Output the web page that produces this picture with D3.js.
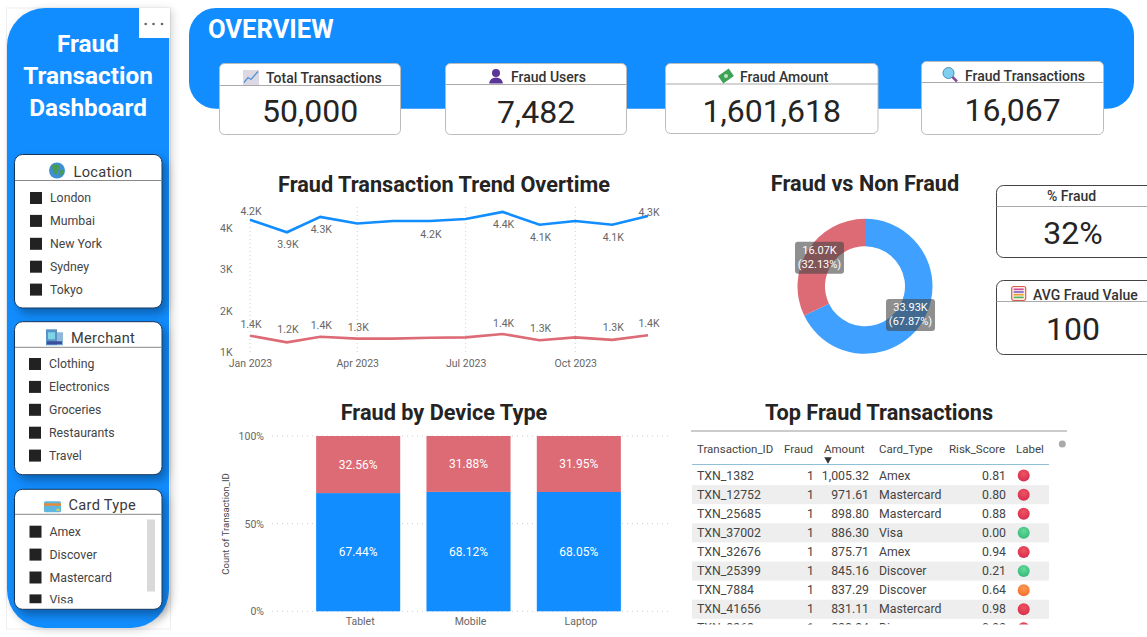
<!DOCTYPE html>
<html>
<head>
<meta charset="utf-8">
<script src="https://cdn.jsdelivr.net/npm/d3@7"></script>
<style>
  html, body { margin: 0; padding: 0; background: #fff; overflow: hidden; }
  svg { display: block; }
  text { font-family: Roboto, "Noto Sans", sans-serif; }
  .title { font-size: 21.7px; font-weight: 700; fill: #252423; text-anchor: middle; dominant-baseline: central; }
  .axis-label { font-size: 10.5px; fill: #666; }
  .axis path, .axis line { display: none; }
</style>
</head>
<body>
<svg id="page" width="1147" height="637"></svg>
<script>
// data
var months = ["2023-01-01","2023-02-01","2023-03-01","2023-04-01","2023-05-01","2023-06-01","2023-07-01","2023-08-01","2023-09-01","2023-10-01","2023-11-01","2023-12-01"];
var nonFraudByMonth = [4190, 3890, 4260, 4100, 4160, 4160, 4210, 4380, 4070, 4160, 4070, 4280];
var fraudByMonth = [1400, 1240, 1376, 1330, 1330, 1350, 1360, 1440, 1290, 1360, 1300, 1410];

var donutLabels = ["Non Fraud", "Fraud"];
var donutValues = [33930, 16070];
var donutPct = ["67.87%", "32.13%"];

var devices = ["Tablet", "Mobile", "Laptop"];
var nonFraudPct = [67.44, 68.12, 68.05];
var fraudPct = [32.56, 31.88, 31.95];

var locations = ["London", "Mumbai", "New York", "Sydney", "Tokyo"];
var merchants = ["Clothing", "Electronics", "Groceries", "Restaurants", "Travel"];
var cardTypes = ["Amex", "Discover", "Mastercard", "Visa"];

var tableHeads = ["Transaction_ID", "Fraud", "Amount", "Card_Type", "Risk_Score", "Label"];
var txnIds = ["TXN_1382", "TXN_12752", "TXN_25685", "TXN_37002", "TXN_32676", "TXN_25399", "TXN_7884", "TXN_41656", "TXN_8368"];
var txnFraud = [1, 1, 1, 1, 1, 1, 1, 1, 1];
var txnAmount = [1005.32, 971.61, 898.80, 886.30, 875.71, 845.16, 837.29, 831.11, 828.34];
var txnCard = ["Amex", "Mastercard", "Mastercard", "Visa", "Amex", "Discover", "Discover", "Mastercard", "Discover"];
var txnRisk = [0.81, 0.80, 0.88, 0.00, 0.94, 0.21, 0.64, 0.98, 0.92];

var blue = "#118dff", red = "#dd6b75", lightBlue = "#3fa0ff";
var svg = d3.select("#page");
var defs = svg.append("defs");

var shadow = defs.append("filter").attr("id", "cardShadow")
  .attr("x", "-20%").attr("y", "-20%").attr("width", "145%").attr("height", "145%");
shadow.append("feDropShadow").attr("dx", 4).attr("dy", 5).attr("stdDeviation", 5)
  .attr("flood-color", "#000").attr("flood-opacity", 0.32);

function addBall(id, light, dark) {
  var g = defs.append("radialGradient").attr("id", id).attr("cx", "50%").attr("cy", "35%").attr("r", "70%");
  g.append("stop").attr("offset", "0%").attr("stop-color", light);
  g.append("stop").attr("offset", "100%").attr("stop-color", dark);
}
addBall("ballRed", "#ee5560", "#d62a4e");
addBall("ballGreen", "#66d99a", "#2fb875");
addBall("ballOrange", "#fb9a4c", "#f26d30");

// ---------- sidebar ----------
svg.append("rect").attr("x", 6.5).attr("y", 8).attr("width", 164).attr("height", 621)
  .attr("fill", "none").attr("stroke", "#eeeeee");
svg.append("path")
  .attr("d", "M7 46 A38 38 0 0 1 45 8 L169 8 L169 590 A38 38 0 0 1 131 628 L45 628 A38 38 0 0 1 7 590 Z")
  .attr("fill", blue).style("filter", "drop-shadow(3px 2px 4px rgba(0,0,0,0.18))");
svg.append("rect").attr("x", 139).attr("y", 8).attr("width", 31).attr("height", 30).attr("fill", "#fff");
[145.7, 153.5, 162].forEach(function(x) {
  svg.append("circle").attr("cx", x).attr("cy", 24).attr("r", 1.3).attr("fill", "#666");
});

["Fraud", "Transaction", "Dashboard"].forEach(function(t, i) {
  svg.append("text").attr("x", 88).attr("y", 43.5 + i * 32)
    .attr("text-anchor", "middle").attr("dominant-baseline", "central")
    .attr("fill", "#fff").style("font-size", "24.3px").style("font-weight", 700).text(t);
});

// slicer card, items get clipped to the box
function slicer(name, items, y0, y1, yLine, firstY, x0, icon, iconX, textX) {
  var id = "clip" + name.replace(" ", "");
  defs.append("clipPath").attr("id", id).append("rect")
    .attr("x", 14).attr("y", yLine).attr("width", 148).attr("height", y1 - yLine - 6);
  svg.append("rect").attr("x", 14.5).attr("y", y0).attr("width", 147.5).attr("height", y1 - y0).attr("rx", 8)
    .attr("fill", "#fff").attr("stroke", "#17365a").attr("stroke-width", 1)
    .attr("filter", "url(#cardShadow)");
  svg.append("line").attr("x1", 15).attr("x2", 161.5).attr("y1", yLine).attr("y2", yLine).attr("stroke", "#888");
  svg.append("text").attr("x", textX).attr("y", yLine - 9).attr("dominant-baseline", "central")
    .attr("fill", "#3a3a3a").style("font-size", "14.6px").style("letter-spacing", "0.3px").text(name);
  icon(svg.append("g").attr("transform", "translate(" + iconX + "," + (yLine - 10) + ")"));
  var g = svg.append("g").attr("clip-path", "url(#" + id + ")");
  var row = d3.scalePoint().domain(items).range([firstY, firstY + 22.9 * (items.length - 1)]);
  g.selectAll("rect").data(items).enter().append("rect")
    .attr("x", x0).attr("y", function(d) { return row(d) - 6; })
    .attr("width", 12).attr("height", 12).attr("fill", "#222");
  g.selectAll("text").data(items).enter().append("text")
    .attr("x", x0 + 20).attr("y", function(d) { return row(d); })
    .attr("dominant-baseline", "central").attr("fill", "#444").style("font-size", "12.3px").text(function(d) { return d; });
}

function iconGlobe(g) {
  g.append("circle").attr("r", 8).attr("fill", "#3d8fd6");
  g.append("path").attr("d", "M-5 -5 Q0 -8 3 -4 L1 0 L-1 5 L-4 1 Z M3 0 L7 -1 L5 5 L2 5 Z").attr("fill", "#4a9c52");
}
function iconBuilding(g) {
  g.append("rect").attr("x", -8).attr("y", -8).attr("width", 11).attr("height", 16).attr("fill", "#5a93c6");
  g.append("rect").attr("x", 3).attr("y", -5).attr("width", 6).attr("height", 13).attr("fill", "#8db8dc");
  g.append("rect").attr("x", -6).attr("y", -5).attr("width", 7).attr("height", 7).attr("fill", "#7fd4e6");
  g.append("rect").attr("x", -7).attr("y", 4).attr("width", 15).attr("height", 3).attr("fill", "#3b4e9b");
}
function iconCard(g) {
  g.append("rect").attr("x", -8.5).attr("y", -3).attr("width", 17).attr("height", 11).attr("rx", 1.5).attr("fill", "#5fb7e0");
  g.append("rect").attr("x", -8.5).attr("y", -1).attr("width", 17).attr("height", 2.5).attr("fill", "#e58a3a");
  g.append("rect").attr("x", 4).attr("y", 4.5).attr("width", 3).attr("height", 2).attr("fill", "#e8d24a");
}
function iconChart(g) {
  g.append("rect").attr("x", -8).attr("y", -7.5).attr("width", 16).attr("height", 15).attr("fill", "#dcd8e4");
  g.append("path").attr("d", "M-7 5 L-3 0 L0 2 L7 -6").attr("fill", "none").attr("stroke", "#4f93d6").attr("stroke-width", 1.3);
}
function iconPerson(g) {
  g.append("circle").attr("cy", -3.5).attr("r", 4).attr("fill", "#5a3596");
  g.append("path").attr("d", "M-7 7 Q-6 1 0 1 Q6 1 7 7 Z").attr("fill", "#5a3596");
}
function iconMoney(g) {
  g.append("rect").attr("x", -6.5).attr("y", -4.5).attr("width", 13).attr("height", 9)
    .attr("transform", "rotate(-35)").attr("fill", "#3fa357");
  g.append("circle").attr("r", 2).attr("fill", "#bfe6c2");
}
function iconLens(g) {
  g.append("line").attr("x1", 2).attr("y1", 2).attr("x2", 7).attr("y2", 7).attr("stroke", "#8b4a9c").attr("stroke-width", 2.5);
  g.append("circle").attr("cx", -1.5).attr("cy", -1.5).attr("r", 5.5).attr("fill", "#7fd0ee").attr("stroke", "#4a8fc0");
}
function iconAbacus(g) {
  g.append("rect").attr("x", -7).attr("y", -7).attr("width", 14).attr("height", 14).attr("rx", 2)
    .attr("fill", "#fbeee0").attr("stroke", "#e0584c").attr("stroke-width", 1.2);
  ["#d04aa0", "#7a5cd0", "#e8a030", "#55b060"].forEach(function(c, i) {
    g.append("rect").attr("x", -5).attr("y", -5 + i * 2.7).attr("width", 10).attr("height", 1.6).attr("fill", c);
  });
}

slicer("Location", locations, 154.5, 308, 180.5, 198, 30, iconGlobe, 57, 73.5);
slicer("Merchant", merchants, 321.7, 474.7, 347.3, 364, 29, iconBuilding, 54, 71);
slicer("Card Type", cardTypes, 489.3, 609.3, 514.3, 531.7, 29.5, iconCard, 52.5, 68.5);
svg.append("rect").attr("x", 147).attr("y", 519.5).attr("width", 8).attr("height", 72).attr("fill", "#d9d9d9");

// ---------- overview band ----------
svg.append("rect").attr("x", 189).attr("y", 8).attr("width", 945).attr("height", 100.7).attr("rx", 27).attr("fill", blue);
svg.append("text").attr("x", 208).attr("y", 29).attr("dominant-baseline", "central")
  .attr("fill", "#fff").style("font-size", "25.6px").style("font-weight", 700).text("OVERVIEW");

function kpi(label, value, x0, x1, y0, y1, yLine, textX, labelY, valueY, iconX, icon, stroke, radius) {
  svg.append("rect").attr("x", x0).attr("y", y0).attr("width", x1 - x0).attr("height", y1 - y0).attr("rx", radius)
    .attr("fill", "#fff").attr("stroke", stroke);
  svg.append("line").attr("x1", x0).attr("x2", x1).attr("y1", yLine).attr("y2", yLine).attr("stroke", "#aaa").attr("stroke-width", 1.2);
  svg.append("text").attr("x", textX).attr("y", labelY).attr("dominant-baseline", "central")
    .attr("fill", "#333").style("font-size", "14px").style("font-weight", 500).text(label);
  if (icon) icon(svg.append("g").attr("transform", "translate(" + iconX + "," + (yLine - 8) + ")"));
  svg.append("text").attr("x", Math.min((x0 + x1) / 2, 1073)).attr("y", valueY)
    .attr("text-anchor", "middle").attr("dominant-baseline", "central")
    .attr("fill", "#252423").style("font-size", "32px").text(value);
}

kpi("Total Transactions", d3.format(",")(50000), 219.5, 400.5, 63.5, 134.5, 85.5, 266, 78, 111, 251, iconChart, "#bbb", 5);
kpi("Fraud Users", d3.format(",")(7482), 445.5, 626.5, 63.5, 134.5, 84.5, 511, 77, 111.5, 496, iconPerson, "#bbb", 5);
kpi("Fraud Amount", d3.format(",")(1601618), 665.5, 878, 63.5, 133.5, 84, 740, 77, 110.5, 726, iconMoney, "#bbb", 5);
kpi("Fraud Transactions", d3.format(",")(16067), 921.5, 1103.5, 61.5, 134.5, 82.5, 965, 76, 110, 950, iconLens, "#bbb", 5);
kpi("% Fraud", "32%", 996.5, 1155, 185.5, 257.5, 206.5, 1047, 196, 233, 0, null, "#444", 7);
kpi("AVG Fraud Value", "100", 996.5, 1155, 280.5, 354.5, 301.5, 1033, 295, 329, 1018.7, iconAbacus, "#444", 7);

// ---------- line chart ----------
svg.append("text").attr("class", "title").attr("x", 444).attr("y", 184).text("Fraud Transaction Trend Overtime");

var parseDay = d3.timeParse("%Y-%m-%d");
var dates = months.map(parseDay);
var x = d3.scaleTime().domain([dates[0], dates[11]]).range([250, 648]);
var y = d3.scaleLinear().domain([1000, 4000]).range([352.3, 227.7]);
var kFormat = function(v) { return d3.format(".1f")(v / 1000) + "K"; };

var xTicks = [dates[0], dates[3], dates[6], dates[9]];
svg.append("g").selectAll("line").data(xTicks).enter().append("line")
  .attr("x1", x).attr("x2", x).attr("y1", 207).attr("y2", 354)
  .attr("stroke", "#cfcfcf").attr("stroke-dasharray", "1 3");

svg.append("g").attr("class", "axis").attr("transform", "translate(0,358.5)")
  .call(d3.axisBottom(x).tickValues(xTicks).tickFormat(d3.timeFormat("%b %Y")).tickSize(0))
  .call(function(g) { g.selectAll("text").attr("class", "axis-label").attr("dy", "0.5em"); })
  .call(function(g) { g.select(".domain").remove(); });

svg.append("g").attr("class", "axis").attr("transform", "translate(232.5,0)")
  .call(d3.axisLeft(y).ticks(4).tickFormat(function(v) { return (v / 1000) + "K"; }).tickSize(0))
  .call(function(g) { g.selectAll("text").attr("class", "axis-label").attr("x", 0); })
  .call(function(g) { g.select(".domain").remove(); });

var line = d3.line().x(function(d, i) { return x(dates[i]); }).y(function(d) { return y(d); });
svg.append("path").attr("d", line(fraudByMonth)).attr("fill", "none").attr("stroke", red).attr("stroke-width", 2.6);
svg.append("path").attr("d", line(nonFraudByMonth)).attr("fill", "none").attr("stroke", blue).attr("stroke-width", 2.6);

// not every month has a label, offset from the line in px
var nonFraudLabelDy = { 0: -8, 1: 12, 2: 13, 5: 13, 7: 13, 8: 13, 10: 13, 11: -4 };
var fraudLabelDy = { 0: -11, 1: -13, 2: -11, 3: -11, 7: -11, 8: -12, 10: -12, 11: -12 };
function lineLabels(values, offs) {
  var shown = d3.range(values.length).filter(function(i) { return offs[i] !== undefined; });
  svg.append("g").selectAll("text").data(shown).enter().append("text")
    .attr("class", "axis-label")
    .attr("text-anchor", "middle").attr("dominant-baseline", "central")
    .attr("x", function(i) { return x(dates[i]) + 1; })
    .attr("y", function(i) { return y(values[i]) + offs[i]; })
    .text(function(i) { return kFormat(values[i]); });
}
lineLabels(nonFraudByMonth, nonFraudLabelDy);
lineLabels(fraudByMonth, fraudLabelDy);

// ---------- donut ----------
svg.append("text").attr("class", "title").attr("x", 865).attr("y", 183).text("Fraud vs Non Fraud");
var pie = d3.pie().sort(null);
var arc = d3.arc().innerRadius(40).outerRadius(67.5);
var donut = svg.append("g").attr("transform", "translate(865,286.3)");
var slices = pie(donutValues);
donut.selectAll("path").data(slices).enter().append("path")
  .attr("d", arc).attr("fill", function(d, i) { return i === 0 ? lightBlue : red; });
slices.forEach(function(s, i) {
  var c = arc.centroid(s);
  var g = donut.append("g").attr("transform", "translate(" + c[0] + "," + c[1] + ")");
  g.append("rect").attr("x", -24.5).attr("y", -16).attr("width", 49).attr("height", 32).attr("rx", 3)
    .attr("fill", "#444").attr("fill-opacity", 0.6);
  g.append("text").attr("text-anchor", "middle").attr("y", -7).attr("dominant-baseline", "central")
    .attr("fill", "#fff").style("font-size", "11px").text(d3.format(".2f")(donutValues[i] / 1000) + "K");
  g.append("text").attr("text-anchor", "middle").attr("y", 7).attr("dominant-baseline", "central")
    .attr("fill", "#fff").style("font-size", "11px").text("(" + donutPct[i] + ")");
});

// ---------- stacked bars ----------
svg.append("text").attr("class", "title").attr("x", 444).attr("y", 412).text("Fraud by Device Type");
var bx = d3.scaleBand().domain(devices).range([303, 634]).paddingInner(0.238).paddingOuter(0.119);
var by = d3.scaleLinear().domain([0, 100]).range([611.3, 436]);

svg.append("g").selectAll("line").data([0, 50, 100]).enter().append("line")
  .attr("x1", 272).attr("x2", 670).attr("y1", by).attr("y2", by)
  .attr("stroke", "#cfcfcf").attr("stroke-dasharray", "1 4");

svg.append("g").attr("class", "axis").attr("transform", "translate(264,0)")
  .call(d3.axisLeft(by).tickValues([0, 50, 100]).tickFormat(function(v) { return v + "%"; }).tickSize(0))
  .call(function(g) { g.selectAll("text").attr("class", "axis-label").attr("x", 0); })
  .call(function(g) { g.select(".domain").remove(); });
svg.append("g").attr("class", "axis").attr("transform", "translate(2,617)")
  .call(d3.axisBottom(bx).tickSize(0))
  .call(function(g) { g.selectAll("text").attr("class", "axis-label").attr("dy", "0.5em"); })
  .call(function(g) { g.select(".domain").remove(); });
svg.append("text").attr("transform", "translate(225,524) rotate(-90)")
  .attr("text-anchor", "middle").attr("dominant-baseline", "central")
  .attr("fill", "#444").style("font-size", "9.5px").text("Count of Transaction_ID");

var stacked = d3.stack().keys(["nonFraud", "fraud"])(devices.map(function(d, i) {
  return { device: d, nonFraud: nonFraudPct[i], fraud: fraudPct[i] };
}));
stacked.forEach(function(layer) {
  var g = svg.append("g");
  g.selectAll("rect").data(layer).enter().append("rect")
    .attr("x", function(d) { return bx(d.data.device); })
    .attr("width", bx.bandwidth())
    .attr("y", function(d) { return by(d[1]); })
    .attr("height", function(d) { return by(d[0]) - by(d[1]); })
    .attr("fill", layer.key === "fraud" ? red : blue);
  g.selectAll("text").data(layer).enter().append("text")
    .attr("x", function(d) { return bx(d.data.device) + bx.bandwidth() / 2; })
    .attr("y", function(d) { return by((d[0] + d[1]) / 2); })
    .attr("text-anchor", "middle").attr("dominant-baseline", "central")
    .attr("fill", "#fff").style("font-size", "12px")
    .text(function(d) { return d3.format(".2f")(d.data[layer.key]) + "%"; });
});

// ---------- table ----------
svg.append("text").attr("class", "title").attr("x", 879).attr("y", 412).text("Top Fraud Transactions");
svg.append("line").attr("x1", 691).attr("x2", 1067).attr("y1", 431).attr("y2", 431).attr("stroke", "#999");
svg.append("circle").attr("cx", 1062.3).attr("cy", 444).attr("r", 3.5).attr("fill", "#aaa");

var headX = [697, 784, 824, 879, 949, 1016];
tableHeads.forEach(function(h, i) {
  svg.append("text").attr("x", headX[i]).attr("y", 449).attr("dominant-baseline", "central")
    .attr("fill", "#444").style("font-size", "11.5px").text(h);
});
svg.append("path").attr("d", d3.symbol(d3.symbolTriangle, 24)).attr("fill", "#333")
  .attr("transform", "translate(828,459.5) rotate(180)");
svg.append("line").attr("x1", 692).attr("x2", 1049).attr("y1", 464.5).attr("y2", 464.5).attr("stroke", "#8fc0d8");

defs.append("clipPath").attr("id", "clipTable").append("rect")
  .attr("x", 690).attr("y", 465).attr("width", 365).attr("height", 159.5);
var ry = d3.scaleBand().domain(txnIds).range([466, 466 + 19.1 * txnIds.length]);
var table = svg.append("g").attr("clip-path", "url(#clipTable)");
var amountFmt = d3.format(",.2f"), riskFmt = d3.format(".2f");

txnIds.forEach(function(id, i) {
  var cy = ry(id) + ry.bandwidth() / 2;
  if (i % 2 === 1) {
    table.append("rect").attr("x", 692).attr("y", ry(id)).attr("width", 357).attr("height", ry.bandwidth()).attr("fill", "#eeeeee");
  }
  var cells = [
    [697, "start", id],
    [814, "end", txnFraud[i]],
    [869, "end", amountFmt(txnAmount[i])],
    [879, "start", txnCard[i]],
    [1006, "end", riskFmt(txnRisk[i])]
  ];
  cells.forEach(function(c) {
    table.append("text").attr("x", c[0]).attr("y", cy).attr("text-anchor", c[1]).attr("dominant-baseline", "central")
      .attr("fill", "#444").style("font-size", "12.3px").text(c[2]);
  });
  // KPI colour bands used for the Label dot
  var r = txnRisk[i];
  var ball = r < 0.5 ? "ballGreen" : r < 0.7 ? "ballOrange" : "ballRed";
  table.append("circle").attr("cx", 1023.7).attr("cy", cy).attr("r", 6).attr("fill", "url(#" + ball + ")");
});
</script>
</body>
</html>
